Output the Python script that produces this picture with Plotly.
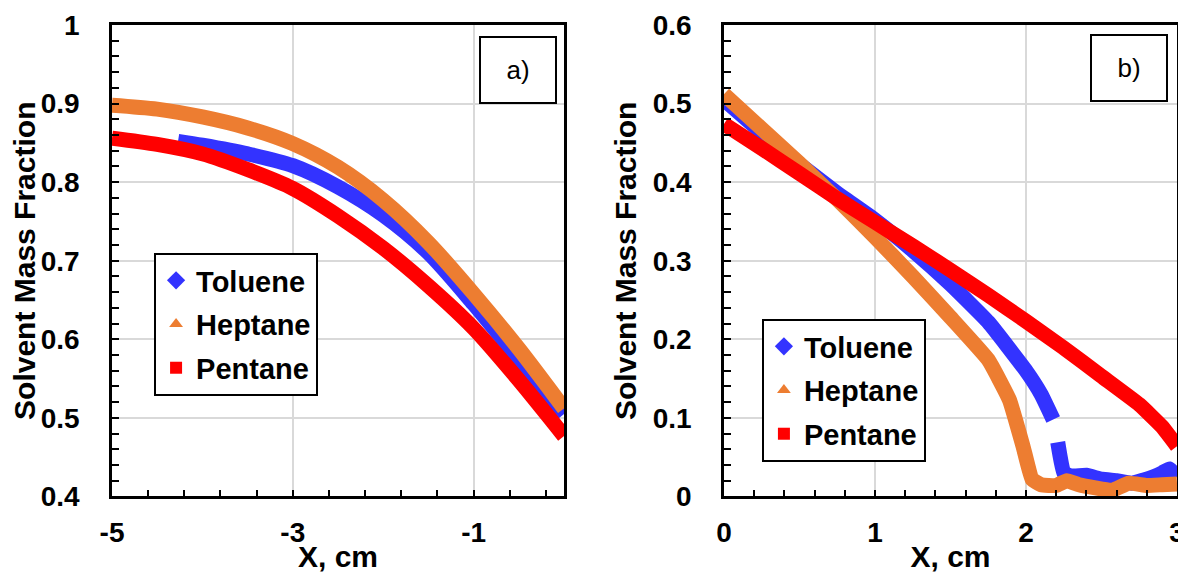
import plotly.graph_objects as go

# ---------------- data: panel a) ----------------
a_tol_x = [-4.27, -4.0, -3.5, -3.0, -2.5, -2.0, -1.5, -1.0, -0.5, 0.0]
a_tol_y = [0.852, 0.847, 0.836, 0.821, 0.794, 0.758, 0.710, 0.645, 0.575, 0.505]
a_hep_x = [-5.0, -4.5, -4.0, -3.5, -3.0, -2.5, -2.0, -1.5, -1.0, -0.5, 0.0]
a_hep_y = [0.898, 0.893, 0.883, 0.869, 0.849, 0.819, 0.777, 0.723, 0.658, 0.588, 0.512]
a_pen_x = [-5.0, -4.5, -4.0, -3.5, -3.0, -2.5, -2.0, -1.5, -1.0, -0.5, 0.0]
a_pen_y = [0.856, 0.848, 0.836, 0.816, 0.792, 0.757, 0.716, 0.668, 0.614, 0.548, 0.477]
a_xtick_vals = [-5, -3, -1]
a_xtick_text = ["-5", "-3", "-1"]

# ---------------- data: panel b) ----------------
b_tol_x = [0.0, 0.25, 0.5, 0.75, 1.0, 1.25, 1.5, 1.75, 2.0, 2.1, 2.18, None,
           2.21, 2.25, 2.3, 2.4, 2.5, 2.6, 2.7, 2.8, 2.9, 2.95, 3.0]
b_tol_y = [0.505, 0.463, 0.423, 0.386, 0.352, 0.313, 0.270, 0.222, 0.160, 0.130, 0.098, None,
           0.069, 0.030, 0.026, 0.027, 0.022, 0.020, 0.017, 0.022, 0.030, 0.035, 0.025]
b_hep_x = [0.0, 0.25, 0.5, 0.75, 1.0, 1.25, 1.5, 1.75, 1.89, 1.98, 2.04, 2.1, 2.2,
           2.27, 2.35, 2.46, 2.57, 2.68, 2.8, 2.9, 3.0]
b_hep_y = [0.512, 0.468, 0.424, 0.378, 0.330, 0.280, 0.228, 0.174, 0.123, 0.064, 0.022,
           0.015, 0.014, 0.020, 0.015, 0.011, 0.008, 0.017, 0.014, 0.015, 0.016]
b_pen_x = [0.0, 0.25, 0.5, 0.75, 1.0, 1.25, 1.5, 1.75, 2.0, 2.25, 2.5, 2.75, 2.9, 3.0]
b_pen_y = [0.474, 0.443, 0.411, 0.379, 0.349, 0.319, 0.288, 0.256, 0.223, 0.189, 0.153,
           0.117, 0.089, 0.064]

names = ["Toluene", "Heptane", "Pentane"]
colors = ["#3333FF", "#ED7D31", "#FF0000"]
symbols = ["diamond", "triangle-up", "square"]
msizes = [14, 12, 12]

FONT = "Liberation Sans, Arial, sans-serif"

fig = go.Figure()

panels = [
    ("x", "y", "legend", [(a_tol_x, a_tol_y), (a_hep_x, a_hep_y), (a_pen_x, a_pen_y)], 0.8),
    ("x2", "y2", "legend2", [(b_tol_x, b_tol_y), (b_hep_x, b_hep_y), (b_pen_x, b_pen_y)], 0.35),
]
for xa, ya, leg, series, smooth in panels:
    for i, (xs, ys) in enumerate(series):
        fig.add_trace(go.Scatter(
            x=xs, y=ys, xaxis=xa, yaxis=ya, mode="lines",
            line=dict(color=colors[i], width=15, shape="spline", smoothing=smooth),
            showlegend=False, hoverinfo="skip"))
    for i in range(3):
        fig.add_trace(go.Scatter(
            x=[None], y=[None], xaxis=xa, yaxis=ya, mode="markers",
            name=names[i], legend=leg, legendgroup=leg + names[i],
            marker=dict(symbol=symbols[i], color=colors[i], size=msizes[i])))

axis_common = dict(
    showline=True, linecolor="black", linewidth=2.5, mirror=True,
    ticks="inside", ticklen=7, tickwidth=2, tickcolor="black",
    showgrid=True, gridcolor="#D9D9D9", gridwidth=2, zeroline=False,
    tickfont=dict(family=FONT, size=28, color="black", weight="bold"),
    automargin=False,
)
minor_common = dict(ticks="inside", ticklen=7, tickwidth=2, tickcolor="black", showgrid=False)
title_font = dict(family=FONT, size=30, color="black", weight="bold")
legend_common = dict(xanchor="left", yanchor="top", bgcolor="white",
                     bordercolor="black", borderwidth=2,
                     font=dict(family=FONT, size=29, color="black", weight="bold"),
                     traceorder="grouped", tracegroupgap=3)
label_font = dict(family=FONT, size=26, color="black")

fig.update_layout(
    width=1178, height=565,
    margin=dict(l=0, r=0, t=0, b=0),
    paper_bgcolor="white", plot_bgcolor="white",
    xaxis=dict(domain=[0.0883, 0.4720], anchor="y", range=[-5, 0],
               tickmode="array", tickvals=a_xtick_vals, ticktext=a_xtick_text,
               minor=dict(dtick=0.4, tick0=-5, **minor_common),
               ticklabelstandoff=9,
               title=dict(text="X, cm", font=title_font, standoff=0), **axis_common),
    yaxis=dict(domain=[0.1354, 0.9699], anchor="x", range=[0.4, 1.0], dtick=0.1,
               minor=dict(dtick=0.02, **minor_common),
               ticklabelstandoff=24,
               title=dict(text="Solvent Mass Fraction", font=title_font, standoff=8), **axis_common),
    xaxis2=dict(domain=[0.6078, 0.9924], anchor="y2", range=[0, 3], dtick=1,
                minor=dict(dtick=0.2, **minor_common),
                ticklabelstandoff=9,
                title=dict(text="X, cm", font=title_font, standoff=0), **axis_common),
    yaxis2=dict(domain=[0.1354, 0.9699], anchor="x2", range=[0, 0.6], dtick=0.1,
                minor=dict(dtick=0.02, **minor_common),
                ticklabelstandoff=24,
                title=dict(text="Solvent Mass Fraction", font=title_font, standoff=8), **axis_common),
    legend=dict(x=0.1240, y=0.5664, **legend_common),
    legend2=dict(x=0.6400, y=0.4496, **legend_common),
    annotations=[
        dict(text="a)", xref="paper", yref="paper", x=0.4329, y=0.8903,
             xanchor="center", yanchor="middle", showarrow=False, font=label_font,
             bordercolor="black", borderwidth=2, bgcolor="white", width=72, height=62),
        dict(text="b)", xref="paper", yref="paper", x=0.9516, y=0.8938,
             xanchor="center", yanchor="middle", showarrow=False, font=label_font,
             bordercolor="black", borderwidth=2, bgcolor="white", width=72, height=62),
    ],
)

fig.write_html("out.html")
